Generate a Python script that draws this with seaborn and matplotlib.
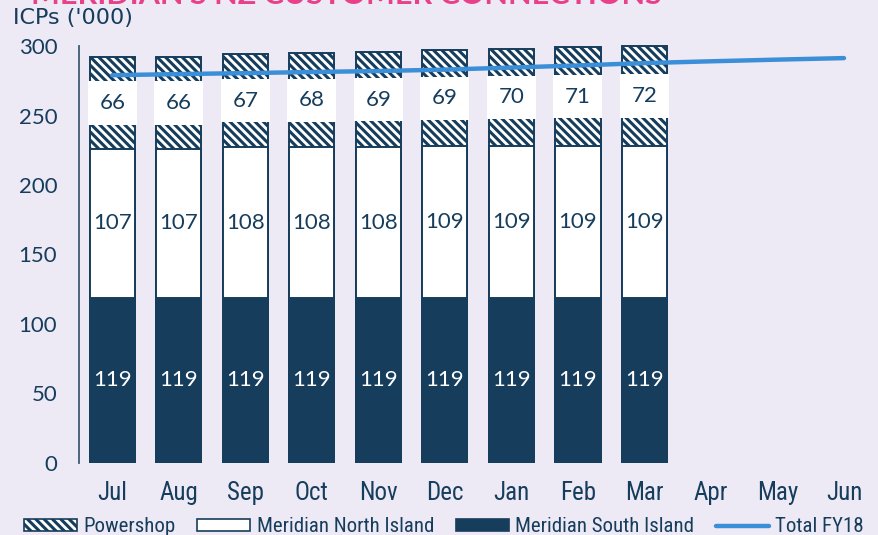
import numpy as np
import pandas as pd
import matplotlib
matplotlib.use("Agg")
import matplotlib.pyplot as plt
import seaborn as sns
from matplotlib.patches import Patch
from matplotlib.lines import Line2D

months = ["Jul", "Aug", "Sep", "Oct", "Nov", "Dec", "Jan", "Feb", "Mar", "Apr", "May", "Jun"]
south_island = [119, 119, 119, 119, 119, 119, 119, 119, 119]
north_island = [107, 107, 108, 108, 108, 109, 109, 109, 109]
powershop = [66, 66, 67, 68, 69, 69, 70, 71, 72]
total_fy18 = [279, 279.8, 280.5, 281.3, 282, 283, 284.5, 286, 287.7, 289, 290.2, 291.3]

navy = "#163d5c"
blue = "#3b8fd8"
bg = "#eeeaf5"
pink = "#e8418a"
hatch = "\\\\\\\\"
narrow = ["Roboto Condensed", "Liberation Sans Narrow", "DejaVu Sans"]

sns.set_theme(style="white")
plt.rcParams["font.family"] = ["Lato", "DejaVu Sans"]
plt.rcParams["hatch.linewidth"] = 2.2

n = len(south_island)
df = pd.DataFrame({
    "month": months[:n],
    "south": south_island,
    "north": north_island,
    "power": powershop,
})
df["mid"] = df["south"] + df["north"]
df["top"] = df["mid"] + df["power"]

fig = plt.figure(figsize=(8.79, 5.35), dpi=100, facecolor=bg)
ax = fig.add_axes([0.0899, 0.1346, 0.9081, 0.7924])
ax.set_facecolor(bg)

# stacked look: draw the totals first, then cover with the lower segments
w = 0.68
sns.barplot(data=df, x="month", y="top", order=months, color="white", width=w,
            edgecolor=navy, linewidth=1.4, hatch=hatch, saturation=1, ax=ax)
sns.barplot(data=df, x="month", y="mid", order=months, color="white", width=w,
            edgecolor=navy, linewidth=1.4, saturation=1, ax=ax)
sns.barplot(data=df, x="month", y="south", order=months, color=navy, width=w,
            edgecolor=navy, linewidth=1.4, saturation=1, ax=ax)

pos = np.arange(len(months))
ax.plot(pos, total_fy18, color=blue, lw=3.2, solid_capstyle="round", zorder=5)

num_font = dict(fontsize=16, ha="center", va="center", family=["Lato", "DejaVu Sans"])
for i, r in df.iterrows():
    ax.text(i, r["south"] / 2, str(r["south"]), color="white", **num_font)
    ax.text(i, r["south"] + r["north"] / 2, str(r["north"]), color=navy, **num_font)
    ax.text(i, r["mid"] + r["power"] / 2, str(r["power"]), color=navy, zorder=4,
            bbox=dict(boxstyle="square,pad=0.52", fc="white", ec="none"), **num_font)

ax.set_xlim(-0.5, 11.5)
ax.set_ylim(0, 305)
ax.set_yticks([0, 50, 100, 150, 200, 250, 300])
ax.set_xlabel("")
ax.set_ylabel("")
for s in ["top", "right", "bottom"]:
    ax.spines[s].set_visible(False)
ax.spines["left"].set_color("#3d5a73")
ax.spines["left"].set_linewidth(1.3)
ax.spines["left"].set_bounds(0, 300)
ax.tick_params(axis="y", direction="inout", length=9.5, width=1.3, color="#3d5a73",
               pad=11, labelsize=16, labelcolor=navy)
ax.tick_params(axis="x", length=0, pad=13, labelsize=18, labelcolor=navy)
for lab in ax.get_xticklabels():
    lab.set_family(narrow)

fig.text(0.015, 0.966, "ICPs ('000)", fontsize=16, color=navy, va="center", ha="left",
         family=["DejaVu Sans"])
fig.text(0.035, 1 - 3.5 / 535, "MERIDIAN'S NZ CUSTOMER CONNECTIONS", fontsize=22, color=pink,
         fontweight="bold", va="baseline", ha="left")

handles = [
    Patch(facecolor="white", edgecolor=navy, hatch=hatch, linewidth=1.2, label="Powershop"),
    Patch(facecolor="white", edgecolor=navy, linewidth=1.2, label="Meridian North Island"),
    Patch(facecolor=navy, edgecolor=navy, linewidth=1.2, label="Meridian South Island"),
    Line2D([0], [0], color=blue, lw=3.2, label="Total FY18"),
]
leg = fig.legend(handles=handles, loc="center", bbox_to_anchor=(0.505, 0.015), ncol=4,
                 frameon=False, fontsize=15, handlelength=2.55, handleheight=0.5,
                 handletextpad=0.3, columnspacing=1.05, borderaxespad=0)
for t in leg.get_texts():
    t.set_color(navy)
    t.set_family(narrow)

fig.savefig("out.png", dpi=100, facecolor=bg)
